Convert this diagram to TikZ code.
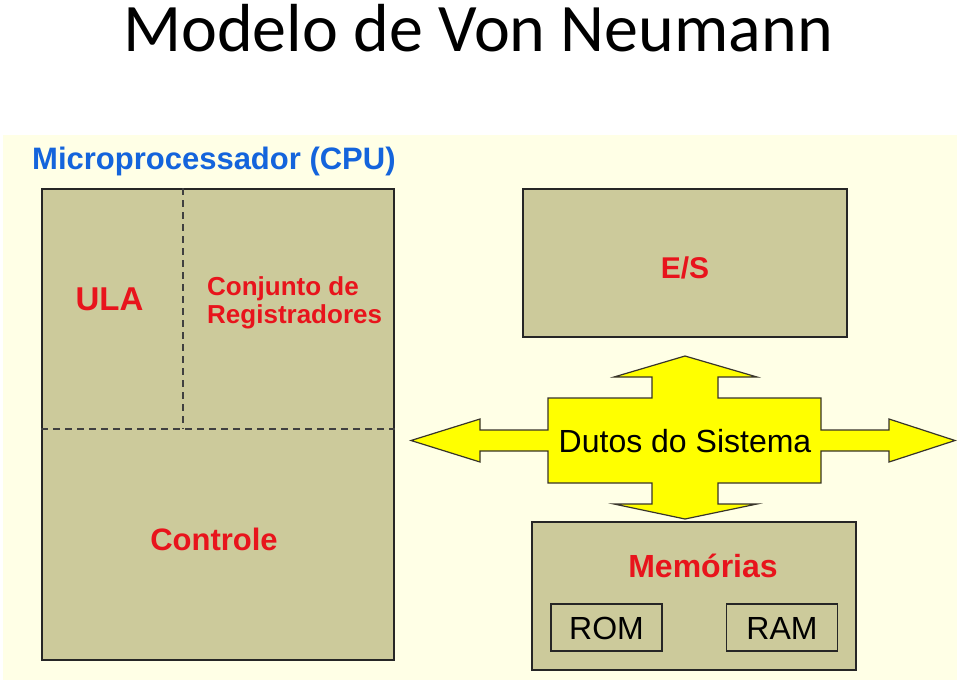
\documentclass[tikz,border=0pt]{standalone}
\usepackage{fontspec}
\setmainfont{Liberation Sans}
\newfontfamily\titlefont{Carlito}
\usetikzlibrary{positioning}

\definecolor{cream}{HTML}{FFFFE6}
\definecolor{khaki}{HTML}{CCCA9B}
\definecolor{labelred}{HTML}{E8141C}
\definecolor{cpublue}{HTML}{1464DC}
\definecolor{busyellow}{HTML}{FFFF00}

\tikzset{
  block/.style={draw=black!85, fill=khaki, line width=1.3pt, inner sep=0pt},
  redlabel/.style={text=labelred, inner sep=0pt, font=\bfseries\fontsize{32}{36}\selectfont},
  chip/.style={draw=black!85, line width=1.3pt, inner sep=0pt, minimum width=111pt, minimum height=47pt},
  chiplabel/.style={inner sep=0pt, font=\fontsize{32}{36}\selectfont},
  divider/.style={dashed, dash pattern=on 7pt off 5pt, line width=1.3pt, color=black!75}
}

\begin{document}
\begin{tikzpicture}[x=1pt, y=-1pt]
\useasboundingbox (0,0) rectangle (960,680);

% we draw the background
\fill[cream] (3,135) rectangle (957,680);

% title
\node (title) [anchor=base, inner sep=0pt, font=\titlefont\fontsize{68}{80}\selectfont] at (478,51) {Modelo de Von Neumann};

% the CPU and its parts
\node (cpuname) [anchor=base west, inner sep=0pt, text=cpublue, font=\bfseries\fontsize{31}{36}\selectfont] at (32,169) {Microprocessador (CPU)};
\node (cpu) [block, minimum width=352pt, minimum height=471pt] at (218,424.5) {};

\coordinate (split) at (183,429);
\draw[divider] (cpu.north -| split) -- (split);
\draw[divider] (cpu.west |- split) -- (cpu.east |- split);

\node (ula) [redlabel, anchor=base, font=\bfseries\fontsize{33}{36}\selectfont] at (109.5,310) {ULA};
\node (regs) [redlabel, anchor=base west, align=left, font=\bfseries\fontsize{26}{28}\selectfont] at (207,323) {Conjunto de\\Registradores};
\node (ctrl) [redlabel, anchor=base, font=\bfseries\fontsize{31}{36}\selectfont] at (214,550) {Controle};

% E/S
\node (es) [block, minimum width=324pt, minimum height=148pt] at (685,263) {};
\node (eslabel) [redlabel, anchor=base, font=\bfseries\fontsize{30}{36}\selectfont] at (es.center |- 0,278) {E/S};

% memories
\node (mem) [block, minimum width=324pt, minimum height=148pt] at (694,596) {};
\node (memlabel) [redlabel, anchor=base] at (703,577) {Memórias};
\node (rom) [chip] at (606.5,627.5) {};
\node (ram) [chip] at (782,627.5) {};
\node (romlabel) [chiplabel, anchor=base] at (rom.center |- 0,639) {ROM};
\node (ramlabel) [chiplabel, anchor=base] at (ram.center |- 0,639) {RAM};

% the bus arrow
\draw[fill=busyellow, draw=black!80!olive, line width=1.2pt, line join=miter]
  (411,440.5) -- (480,419) -- (480,430) -- (548,430) -- (548,398) -- (652,398)
  -- (652,377) -- (614,377) -- (685,356) -- (757,377) -- (718,377) -- (718,398)
  -- (821,398) -- (821,430) -- (889,430) -- (889,419) -- (955,440.5) -- (889,462)
  -- (889,451) -- (821,451) -- (821,483) -- (718,483) -- (718,504) -- (757,504)
  -- (685,519) -- (614,504) -- (652,504) -- (652,483) -- (548,483) -- (548,451)
  -- (480,451) -- (480,462) -- cycle;
\node (bus) [chiplabel, anchor=base] at (685,452) {Dutos do Sistema};

\end{tikzpicture}
\end{document}
